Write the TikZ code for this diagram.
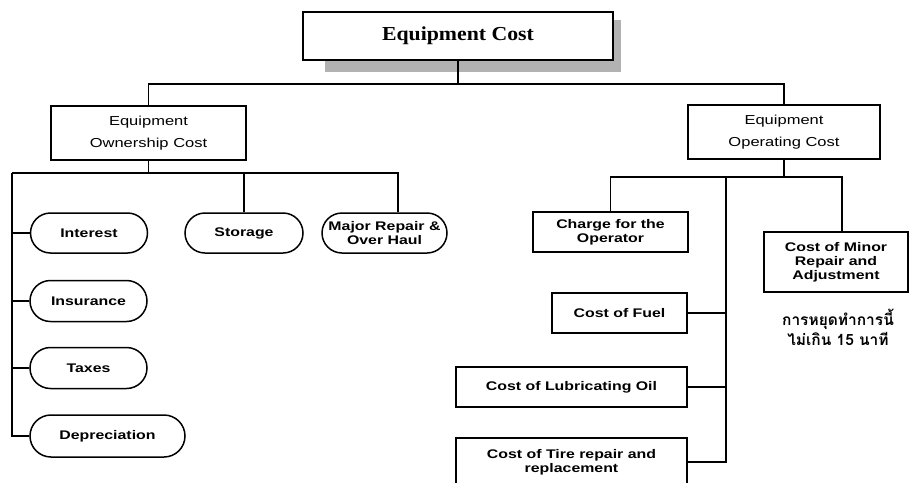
\documentclass[tikz,border=0pt]{standalone}
\usepackage{fontspec}
\usetikzlibrary{shapes.misc}
\newfontfamily\capfont[FakeStretch=1.1]{Liberation Serif}
\newfontfamily\labfont[FakeStretch=1.27]{Liberation Sans}
\newfontfamily\thaifont[Script=Thai]{Loma}
\tikzset{
  x=1pt, y=-1pt,
  conn/.style={line width=1.3pt},
  headbox/.style={draw, line width=1.5pt, fill=white, minimum width=310pt, minimum height=48pt,
    font=\capfont\bfseries\fontsize{19.8}{22}\selectfont},
  groupbox/.style={draw, line width=1.5pt, fill=white, align=center, inner sep=0pt,
    font=\labfont\fontsize{13}{22}\selectfont},
  leafbox/.style={draw, line width=1.5pt, fill=white, align=center, inner sep=0pt,
    font=\labfont\bfseries\fontsize{12.5}{14}\selectfont},
  pill/.style={draw, line width=1.5pt, fill=white, align=center, inner sep=0pt,
    rounded rectangle, rounded rectangle arc length=180,
    font=\labfont\bfseries\fontsize{12.5}{13.5}\selectfont},
  note/.style={align=center, font=\thaifont\bfseries\fontsize{15.5}{20}\selectfont}
}
\begin{document}
\begin{tikzpicture}
\useasboundingbox (0,0) rectangle (912,482);
\clip (0,0) rectangle (912,482);

% drop shadow behind the heading box
\fill[gray!60] (325,20) rectangle (621,72);

% heading
\node[headbox] (top) at (458,36) {Equipment Cost};

% second level
\node[groupbox, minimum width=195pt, minimum height=54pt] (own) at (148.5,133) {Equipment\\Ownership Cost};
\node[groupbox, minimum width=192pt, minimum height=54pt] (oper) at (784,132) {Equipment\\Operating Cost};

% ownership items
\node[pill, minimum width=117pt, minimum height=40pt] (int) at (89,233) {Interest};
\node[pill, minimum width=118pt, minimum height=40pt] (stor) at (244,233) {Storage};
\node[pill, minimum width=125pt, minimum height=40pt] (major) at (384.5,233) {Major Repair \&\\Over Haul};
\node[pill, minimum width=117pt, minimum height=41pt] (ins) at (88.5,301) {Insurance};
\node[pill, minimum width=117pt, minimum height=41pt] (tax) at (88.5,368) {Taxes};
\node[pill, minimum width=155pt, minimum height=42pt] (dep) at (107.5,436) {Depreciation};

% operating items
\node[leafbox, minimum width=155pt, minimum height=40pt] (charge) at (610.5,232) {Charge for the\\Operator};
\node[leafbox, minimum width=144pt, minimum height=60pt] (minor) at (836,262) {Cost of Minor\\Repair and\\Adjustment};
\node[leafbox, minimum width=135pt, minimum height=40pt] (fuel) at (619.5,313) {Cost of Fuel};
\node[leafbox, minimum width=231pt, minimum height=40pt] (lub) at (571.5,387) {Cost of Lubricating Oil};
\node[leafbox, minimum width=231pt, minimum height=48pt] (tire) at (571.5,462) {Cost of Tire repair and\\replacement};

% note under the minor repair box
\node[note] (nt) at (838,327) {การหยุดทำการนี้\\ไม่เกิน 15 นาที};

% top level connectors
\coordinate (bus) at (458,84);
\draw[conn] (top.south) -- (bus);
\draw[conn] (own.north) |- (bus) -| (oper.north);

% ownership connectors
\coordinate (lt) at (12,173);
\draw[conn] (own.south) -- (own.south |- lt);
\draw[conn] (lt) -- ([xshift=13.5pt]major.north |- lt) -- ([xshift=13.5pt]major.north);
\draw[conn] (stor.north) -- (stor.north |- lt);
\draw[conn] (lt) -- (lt |- dep.west) -- (dep.west);
\draw[conn] (int.west) -- (int.west -| lt);
\draw[conn] (ins.west) -- (ins.west -| lt);
\draw[conn] (tax.west) -- (tax.west -| lt);

% operating connectors
\coordinate (rt) at (726,177);
\draw[conn] (oper.south) -- (oper.south |- rt);
\draw[conn] (charge.north) |- ([xshift=6pt]minor.north |- rt) -- ([xshift=6pt]minor.north);
\draw[conn] (rt) -- (rt |- tire.east) -- (tire.east);
\draw[conn] (fuel.east) -- (fuel.east -| rt);
\draw[conn] (lub.east) -- (lub.east -| rt);
\end{tikzpicture}
\end{document}
